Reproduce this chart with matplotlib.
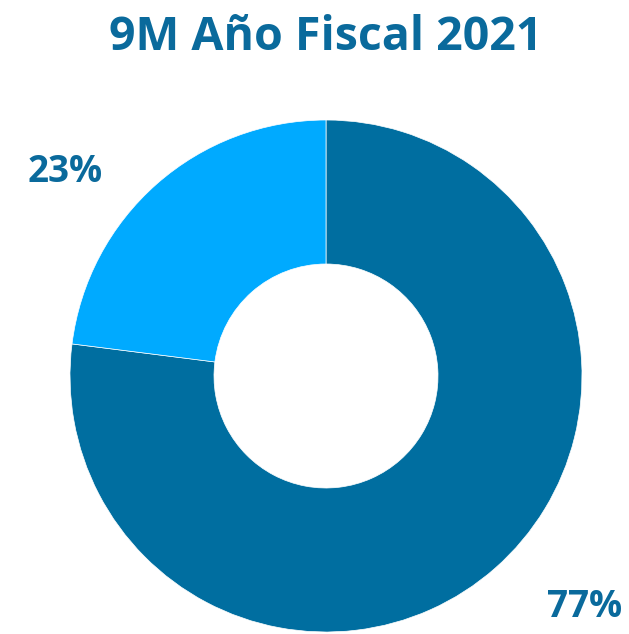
import matplotlib.pyplot as plt

# Share of 9M fiscal year 2021
shares = [77, 23]
labels = ['77%', '23%']
colors = ['#006ea0', '#00aaff']
title = '9M Año Fiscal 2021'

fig = plt.figure(figsize=(6.29, 6.34), dpi=100)
ax = fig.add_axes([0, 0, 1, 1])

# donut, first slice running clockwise from 12 o'clock
ax.pie(shares, colors=colors, startangle=90, counterclock=False,
       center=(326, 258), radius=256,
       wedgeprops=dict(width=144, edgecolor='white', linewidth=0.5))

# pie() resets the limits, so fix the pixel-like frame afterwards
ax.set_xlim(0, 629)
ax.set_ylim(0, 634)
ax.set_aspect('equal')
ax.axis('off')

label_pos = [(585, 27), (65, 462)]
for txt, (x, y) in zip(labels, label_pos):
    ax.text(x, y, txt, ha='center', va='center', fontsize=26.5,
            fontweight='bold', color='#0a6a9c', family='Open Sans')

fig.text(326 / 629, 1 - 38 / 634, title, ha='center', va='center',
         fontsize=33.5, fontweight='bold', color='#0a6a9c', family='Open Sans')

fig.savefig('out.png', dpi=100)
